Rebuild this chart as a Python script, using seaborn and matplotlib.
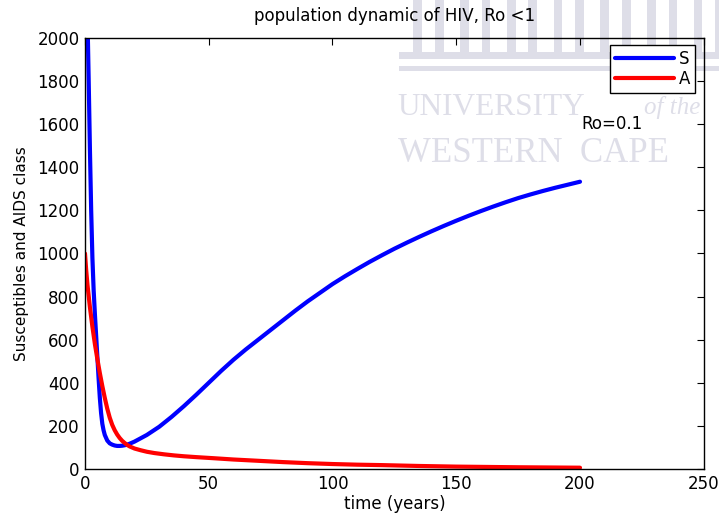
import numpy as np
import pandas as pd
import matplotlib
matplotlib.use("Agg")
import matplotlib.pyplot as plt
from matplotlib.patches import Rectangle
import seaborn as sns

# ---- data ----
t_S = [0, 0.5, 1, 1.5, 2, 2.5, 3, 3.5, 4, 4.5, 5, 5.5, 6, 6.5, 7, 7.5, 8, 9, 10, 11, 12,
       13, 14, 15, 16, 17, 18, 19, 20, 25, 30, 35, 40, 45, 50, 55, 60, 65, 70, 75, 80,
       85, 90, 95, 100, 105, 110, 115, 120, 125, 130, 135, 140, 145, 150, 155, 160,
       165, 170, 175, 180, 185, 190, 195, 200]
S = [2700, 2400, 2100, 1800, 1480, 1200, 980, 830, 720, 620, 520, 420, 330, 260, 210, 180,
     158, 132, 119, 113, 109, 107, 107, 108, 110, 113, 117, 122, 127, 158, 196, 242, 292,
     345, 400, 455, 507, 555, 600, 645, 690, 735, 778, 818, 858, 894, 928, 961, 992, 1022,
     1050, 1077, 1103, 1128, 1152, 1175, 1197, 1218, 1238, 1257, 1274, 1290, 1305, 1319,
     1333]

t_A = [0, 0.5, 1, 2, 3, 4, 5, 6, 7, 8, 9, 10, 11, 12, 13, 14, 15, 16, 17, 18, 20, 22.5,
       25, 28, 32, 36, 40, 45, 52, 60, 70, 80, 90, 100, 110, 120, 135, 150, 175, 200]
A = [1000, 920, 855, 750, 660, 580, 510, 445, 385, 330, 280, 238, 205, 180, 160, 144, 131,
     121, 112, 105, 95, 87, 80, 74, 68, 63, 59, 55, 50, 44, 38, 32, 27, 23, 20, 18, 14,
     11, 8, 6]

series_names = ["S", "A"]
title = "population dynamic of HIV, Ro <1"
xlabel = "time (years)"
ylabel = "Susceptibles and AIDS class"
annot = "Ro=0.1"
x_ticks = [0, 50, 100, 150, 200, 250]
y_ticks = [0, 200, 400, 600, 800, 1000, 1200, 1400, 1600, 1800, 2000]

df = pd.concat([
    pd.DataFrame({"t": t_S, "value": S, "class": "S"}),
    pd.DataFrame({"t": t_A, "value": A, "class": "A"}),
], ignore_index=True)

sns.set_style("white")
plt.rcParams["font.family"] = ["DejaVu Sans"]
plt.rcParams["text.color"] = "black"
plt.rcParams["axes.labelcolor"] = "black"

fig = plt.figure(figsize=(7.19, 5.16), dpi=100)

# faint watermark (university logo) in the background
wm = "#dedee8"
for xp in [0.575, 0.64, 0.705, 0.77, 0.835, 0.90, 0.965]:
    for dx in (0.0, 0.03):
        fig.patches.append(Rectangle((xp + dx, 0.90), 0.012, 0.10, transform=fig.transFigure,
                                     facecolor=wm, edgecolor="none", zorder=-1))
fig.patches.append(Rectangle((0.555, 0.885), 0.45, 0.014, transform=fig.transFigure,
                             facecolor=wm, edgecolor="none", zorder=-1))
fig.patches.append(Rectangle((0.555, 0.862), 0.45, 0.010, transform=fig.transFigure,
                             facecolor=wm, edgecolor="none", zorder=-1))
fig.text(0.553, 0.792, "UNIVERSITY", fontsize=22.5, family="Liberation Serif",
         color=wm, zorder=-1, va="center")
fig.text(0.895, 0.792, "of the", fontsize=18, family="Liberation Serif", style="italic",
         color=wm, zorder=-1, va="center")
fig.text(0.553, 0.703, "WESTERN  CAPE", fontsize=25, family="Liberation Serif",
         color=wm, zorder=-1, va="center")

ax = fig.add_axes([0.1182, 0.0911, 0.8606, 0.8353])
ax.patch.set_alpha(0)

sns.lineplot(data=df, x="t", y="value", hue="class", hue_order=series_names,
             palette={"S": "#0000ff", "A": "#ff0000"}, estimator=None, sort=False,
             linewidth=3, ax=ax)

ax.set_xlim(0, 250)
ax.set_ylim(0, 2000)
ax.set_xticks(x_ticks)
ax.set_yticks(y_ticks)
ax.tick_params(direction="in", length=5, width=0.8, top=True, right=True,
               labelsize=12, colors="black", pad=4)
for sp in ax.spines.values():
    sp.set_visible(True)
    sp.set_color("black")
    sp.set_linewidth(1.0)

ax.set_title(title, fontsize=12, pad=12, color="black")
ax.set_xlabel(xlabel, fontsize=12, labelpad=2)
ax.set_ylabel(ylabel, fontsize=11, labelpad=6)

ax.text(200.5, 1600, annot, fontsize=12, va="center", ha="left")

leg = ax.legend(title=None, loc="upper right", bbox_to_anchor=(0.986, 0.984),
                borderaxespad=0, fontsize=12, handlelength=3.5, handletextpad=0.3,
                fancybox=False, framealpha=1, edgecolor="black", borderpad=0.3,
                labelspacing=0.1)
leg.get_frame().set_linewidth(1.0)

fig.savefig("out.png", dpi=100)
